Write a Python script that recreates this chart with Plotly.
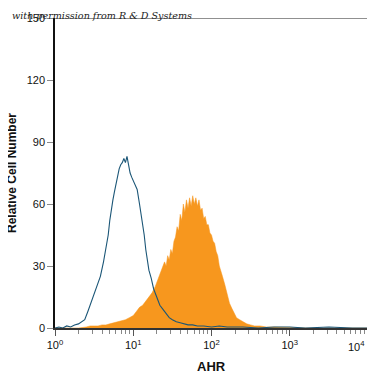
import plotly.graph_objects as go

# log10 fluorescence bin positions and relative cell counts
iso_log = [0.00, 0.05, 0.10, 0.15, 0.20, 0.25, 0.30, 0.34, 0.38, 0.42, 0.46, 0.50, 0.54, 0.58,
           0.62, 0.65, 0.68, 0.70, 0.72, 0.74, 0.76, 0.78, 0.80, 0.82, 0.84, 0.86, 0.88, 0.90,
           0.92, 0.94, 0.96, 0.98, 1.00, 1.02, 1.05, 1.08, 1.10, 1.12, 1.14, 1.16, 1.18, 1.20,
           1.23, 1.26, 1.30, 1.34, 1.38, 1.42, 1.46, 1.50, 1.55, 1.60, 1.65, 1.70, 1.76, 1.82,
           1.90, 2.00, 2.10, 2.20, 2.40, 2.60, 2.80, 3.00, 3.20, 3.50, 3.80, 4.00]
iso_cnt = [0, 0.5, 0, 1, 0.5, 1.5, 2, 3, 4, 8, 12, 16, 20, 25,
           32, 38, 45, 52, 58, 62, 66, 70, 74, 77, 79, 80, 82, 80,
           83, 78, 75, 73, 71, 69, 67, 60, 55, 52, 45, 38, 32, 28,
           24, 19, 15, 11, 9, 7, 5, 4, 3, 2.5, 2, 1.5, 1.5, 1,
           1, 0.5, 1, 0.5, 0.5, 0, 0.5, 0.5, 0, 0.5, 0, 0]

ahr_log = [0.00, 0.30, 0.40, 0.45, 0.50, 0.55, 0.60, 0.65, 0.70, 0.75, 0.80, 0.85, 0.90, 0.95,
           1.00, 1.04, 1.08, 1.12, 1.16, 1.20, 1.24, 1.28, 1.32, 1.36,
           1.40, 1.42, 1.44, 1.46, 1.48, 1.50, 1.52, 1.54, 1.56, 1.58,
           1.60, 1.62, 1.64, 1.66, 1.68, 1.70, 1.72, 1.74, 1.76, 1.78,
           1.80, 1.82, 1.84, 1.86, 1.88, 1.90, 1.92, 1.94, 1.96, 1.98,
           2.00, 2.02, 2.04, 2.06, 2.08, 2.10, 2.12, 2.14, 2.17, 2.20,
           2.23, 2.26, 2.29, 2.32, 2.36, 2.40, 2.45, 2.50, 2.55, 2.62,
           2.70, 2.80, 2.90, 3.00, 3.20, 4.00]
ahr_cnt = [0, 0, 0.5, 1, 1, 1, 1.5, 1.5, 2, 2.5, 3, 3.5, 4, 5,
           6, 8, 10, 11, 13, 15, 17, 20, 24, 28,
           32, 30, 35, 33, 38, 36, 42, 44, 49, 47,
           55, 52, 60, 56, 62, 58, 63, 59, 64, 60,
           63, 59, 62, 57, 58, 53, 54, 50, 50, 46,
           45, 42, 41, 37, 35, 30, 28, 25, 21, 16,
           12, 9.5, 7, 5, 4, 3, 2, 1.5, 1, 1,
           0.5, 0.5, 0.5, 0.3, 0, 0]

x_tick_exp = [0, 1, 2, 3]
x_last_exp = 4
y_ticks = [0, 30, 60, 90, 120, 150]

iso_x = [10 ** v for v in iso_log]
ahr_x = [10 ** v for v in ahr_log]

fig = go.Figure()
fig.add_trace(go.Scatter(x=ahr_x, y=ahr_cnt, mode="lines", line=dict(color="#F7971E", width=0.5),
                         fill="tozeroy", fillcolor="#F7971E", hoverinfo="skip"))
fig.add_trace(go.Scatter(x=iso_x, y=iso_cnt, mode="lines", line=dict(color="#1B5677", width=1.1),
                         hoverinfo="skip"))

minor_vals = [m * 10 ** d for d in range(4) for m in range(2, 10)]

font_main = "Liberation Sans Narrow, Arial Narrow, Liberation Sans, Arial, sans-serif"

# page body has an 8px margin, so the figure is sized to fill the rest of the window
fig.update_layout(
    width=367, height=367,
    margin=dict(l=47, r=7, t=10, b=47),
    paper_bgcolor="white", plot_bgcolor="white",
    showlegend=False,
    font=dict(family=font_main, color="#222222", size=11),
    xaxis=dict(
        type="log", range=[0, 4], automargin=False,
        tickvals=[10 ** e for e in x_tick_exp + [x_last_exp]],
        ticktext=["10<sup>%d</sup>" % e for e in x_tick_exp] + [""],
        ticks="outside", ticklen=6, tickcolor="#555555", tickwidth=1,
        showline=True, linecolor="#333333", linewidth=2,
        showgrid=False, zeroline=False,
        minor=dict(tickvals=minor_vals, ticks="outside", ticklen=4, tickcolor="#888888", showgrid=False),
        tickfont=dict(size=11, family=font_main, color="#111111"),
    ),
    yaxis=dict(
        range=[0, 150], tickvals=y_ticks, automargin=False,
        ticks="outside", ticklen=6, tickcolor="#888888",
        showline=True, linecolor="#111111", linewidth=1.5,
        showgrid=False, zeroline=False,
        tickfont=dict(size=11, family=font_main, color="#111111"),
    ),
)

# last decade label, kept inside the visible window edge
fig.add_annotation(text="10<sup>%d</sup>" % x_last_exp, xref="x", yref="paper", x=x_last_exp,
                   y=-18 / 310, xanchor="right", xshift=-1, yanchor="middle", showarrow=False,
                   font=dict(size=11, family=font_main, color="#111111"))
fig.add_shape(type="line", xref="paper", yref="y", x0=0, x1=1, y0=150, y1=150,
              line=dict(color="#222222", width=1))
fig.add_annotation(text="<b>AHR</b>", xref="paper", yref="paper", x=0.5, y=-38 / 310,
                   xanchor="center", yanchor="middle", showarrow=False,
                   font=dict(size=13, family=font_main, color="#111111"))
fig.add_annotation(text="<b>Relative Cell Number</b>", xref="paper", yref="paper", x=-43 / 313, y=0.5,
                   xanchor="center", yanchor="middle", textangle=-90, showarrow=False,
                   font=dict(size=12, family=font_main, color="#111111"))
fig.add_annotation(text="<i>with permission from R &amp; D Systems</i>", xref="paper", yref="paper",
                   x=-45 / 313, y=1.008, xanchor="left", yanchor="middle", showarrow=False,
                   font=dict(family="DejaVu Serif, Liberation Serif, serif", size=9.6, color="#222222"))

fig.write_html("out.html")
